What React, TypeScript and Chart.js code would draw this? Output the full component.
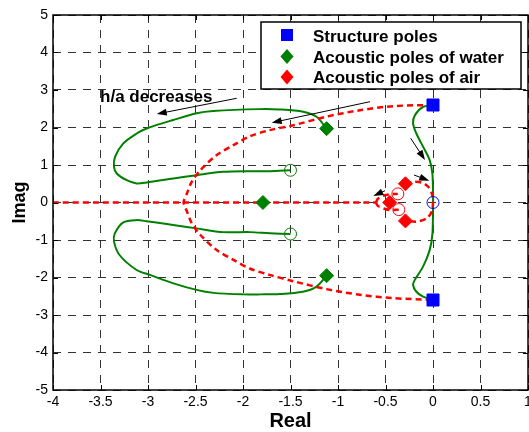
import React, { useEffect, useRef } from 'react';
import { Chart, registerables } from 'chart.js';

Chart.register(...registerables);

// ---------- axis ticks ----------
const xTickValues = [-4, -3.5, -3, -2.5, -2, -1.5, -1, -0.5, 0, 0.5, 1];
const xTickLabels = ['-4', '-3.5', '-3', '-2.5', '-2', '-1.5', '-1', '-0.5', '0', '0.5', '1'];
const yTickValues = [-5, -4, -3, -2, -1, 0, 1, 2, 3, 4, 5];
const yTickLabels = ['-5', '-4', '-3', '-2', '-1', '0', '1', '2', '3', '4', '5'];
const xTitle = 'Real';
const yTitle = 'Imag';

// ---------- legend ----------
const legendLabels = ['Structure poles', 'Acoustic poles of water', 'Acoustic poles of air'];

// ---------- poles & zeros ----------
const structurePoleX = [0, 0];
const structurePoleY = [2.6, -2.6];
const waterPoleX = [-1.12, -1.12, -1.79];
const waterPoleY = [1.97, -1.95, 0];
const airPoleX = [-0.29, -0.29, -0.455];
const airPoleY = [0.5, -0.49, 0];
const structureZeroX = [0];
const structureZeroY = [0];
const waterZeroX = [-1.5, -1.5];
const waterZeroY = [0.86, -0.84];
const airZeroX = [-0.37, -0.36];
const airZeroY = [0.23, -0.19];

// ---------- loci ----------
// green: structure pole locus (right side)
const structLocusX = [0, -0.105, -0.19, -0.21, -0.175, -0.105, -0.035, -0.007, 0, 0, -0.006, -0.035, -0.105, -0.193, -0.21, -0.175, -0.105, -0.017, 0];
const structLocusY = [2.6, 2.55, 2.33, 2.11, 1.84, 1.49, 1.13, 0.78, 0.3, -0.11, -0.83, -1.27, -1.71, -2.07, -2.2, -2.38, -2.51, -2.58, -2.6];

// green: water pole loci (upper and lower loops)
const waterUpperX = [-1.12, -1.226, -1.367, -1.612, -1.822, -2.313, -2.488, -2.734, -3.014, -3.119, -3.26, -3.347, -3.358, -3.329, -3.224, -3.119, -3.014, -2.734, -2.488, -2.208, -1.927, -1.717, -1.5];
const waterUpperY = [1.97, 2.285, 2.42, 2.48, 2.49, 2.44, 2.38, 2.2, 1.975, 1.84, 1.575, 1.217, 0.95, 0.774, 0.595, 0.507, 0.534, 0.64, 0.729, 0.817, 0.836, 0.836, 0.86];
const waterLowerX = [-1.12, -1.23, -1.37, -1.61, -1.82, -2.0, -2.31, -2.49, -2.74, -2.98, -3.12, -3.3, -3.357, -3.35, -3.26, -3.12, -3.014, -2.734, -2.488, -2.208, -1.927, -1.717, -1.5];
const waterLowerY = [-1.95, -2.25, -2.38, -2.44, -2.45, -2.45, -2.41, -2.33, -2.15, -1.93, -1.8, -1.4, -1.05, -0.83, -0.53, -0.47, -0.5, -0.6, -0.69, -0.79, -0.79, -0.82, -0.84];

// red: structure pole locus in air
const airBigX = [0, -0.42, -0.77, -1.12, -1.47, -1.72, -1.93, -2.1, -2.28, -2.45, -2.54, -2.59, -2.625, -2.59, -2.54, -2.45, -2.28, -2.1, -1.93, -1.72, -1.47, -1.12, -0.77, -0.42, 0];
const airBigY = [2.6, 2.57, 2.46, 2.29, 2.06, 1.93, 1.76, 1.53, 1.26, 0.86, 0.55, 0.24, 0, -0.24, -0.55, -0.86, -1.26, -1.53, -1.76, -1.93, -2.1, -2.31, -2.46, -2.55, -2.6];

// red: real-axis segment
const airAxisX = [-4, -0.6];
const airAxisY = [0, 0];

// red: small loop around origin
const airLoopX = [-0.29, -0.2, -0.12, -0.05, -0.01, 0, -0.014, -0.066, -0.17, -0.28];
const airLoopY = [0.5, 0.55, 0.53, 0.42, 0.22, 0, -0.245, -0.42, -0.51, -0.49];

// red: small arcs near the zeros
const airArcUpperX = [-0.6, -0.58, -0.52, -0.45, -0.37];
const airArcUpperY = [0, 0.1, 0.18, 0.22, 0.23];
const airArcLowerX = [-0.6, -0.58, -0.52, -0.45, -0.36];
const airArcLowerY = [0, -0.09, -0.16, -0.2, -0.19];

// ---------- annotations ----------
const arrowFromX = [-2.066, -0.663, -0.235, -0.2, -0.505];
const arrowFromY = [2.779, 2.688, 1.712, 0.733, 0.315];
const arrowToX = [-2.908, -1.698, -0.084, -0.039, -0.628];
const arrowToY = [2.36, 2.128, 1.133, 0.581, 0.173];
const noteText = 'h/a decreases';
const noteX = -3.505;
const noteY = 2.69;

const FONT = '"Liberation Sans", Arial, Helvetica, sans-serif';
const GREEN = '#008000';
const RED = '#ff0000';
const BLUE = '#0000ff';

const pts = (xs: number[], ys: number[]) => xs.map((x, i) => ({ x, y: ys[i] }));

function drawArrow(ctx: CanvasRenderingContext2D, x1: number, y1: number, x2: number, y2: number) {
  const a = Math.atan2(y2 - y1, x2 - x1);
  const L = 10, W = 3.5;
  const c = Math.cos(a), s = Math.sin(a);
  ctx.beginPath();
  ctx.moveTo(x1, y1);
  ctx.lineTo(x2 - L * 0.7 * c, y2 - L * 0.7 * s);
  ctx.stroke();
  ctx.beginPath();
  ctx.moveTo(x2, y2);
  ctx.lineTo(x2 - L * c + W * s, y2 - L * s - W * c);
  ctx.lineTo(x2 - L * c - W * s, y2 - L * s + W * c);
  ctx.closePath();
  ctx.fill();
}

const framePlugin = {
  id: 'frame',
  afterDatasetsDraw(chart: any) {
    const { ctx, chartArea, scales } = chart;
    const { left, right, top, bottom } = chartArea;
    const x = scales.x, y = scales.y;
    ctx.save();
    ctx.strokeStyle = '#000';
    ctx.lineWidth = 1;
    ctx.beginPath();
    xTickValues.forEach((v) => {
      const px = Math.round(x.getPixelForValue(v)) + 0.5;
      ctx.moveTo(px, bottom); ctx.lineTo(px, bottom - 5);
      ctx.moveTo(px, top); ctx.lineTo(px, top + 5);
    });
    yTickValues.forEach((v) => {
      const py = Math.round(y.getPixelForValue(v)) + 0.5;
      ctx.moveTo(left, py); ctx.lineTo(left + 5, py);
      ctx.moveTo(right, py); ctx.lineTo(right - 5, py);
    });
    ctx.stroke();
    ctx.lineWidth = 1.5;
    ctx.strokeRect(left, top, right - left, bottom - top);

    // arrows
    ctx.strokeStyle = '#000';
    ctx.fillStyle = '#000';
    ctx.lineWidth = 1;
    arrowFromX.forEach((_, i) => {
      drawArrow(ctx,
        x.getPixelForValue(arrowFromX[i]), y.getPixelForValue(arrowFromY[i]),
        x.getPixelForValue(arrowToX[i]), y.getPixelForValue(arrowToY[i]));
    });

    // note text
    ctx.font = `bold 17px ${FONT}`;
    ctx.textBaseline = 'alphabetic';
    ctx.textAlign = 'left';
    ctx.fillStyle = '#000';
    ctx.fillText(noteText, x.getPixelForValue(noteX), y.getPixelForValue(noteY));

    // legend
    const lx = 261, ly = 22, lw = 260, lh = 67;
    ctx.fillStyle = '#fff';
    ctx.fillRect(lx, ly, lw, lh);
    ctx.strokeStyle = '#000';
    ctx.lineWidth = 1.5;
    ctx.strokeRect(lx, ly, lw, lh);
    const rowY = [35, 56.5, 77];
    const baseY = [41.5, 62.5, 83];
    const mx = 287;
    ctx.fillStyle = BLUE;
    ctx.fillRect(mx - 6, rowY[0] - 6, 12, 12);
    [GREEN, RED].forEach((col, k) => {
      const cy = rowY[k + 1];
      ctx.fillStyle = col;
      ctx.beginPath();
      ctx.moveTo(mx, cy - 7.5);
      ctx.lineTo(mx + 6.5, cy);
      ctx.lineTo(mx, cy + 7.5);
      ctx.lineTo(mx - 6.5, cy);
      ctx.closePath();
      ctx.fill();
    });
    ctx.fillStyle = '#000';
    ctx.font = `bold 17px ${FONT}`;
    legendLabels.forEach((t, i) => ctx.fillText(t, 313, baseY[i]));
    ctx.restore();
  },
};

export default function App() {
  const ref = useRef<HTMLCanvasElement>(null);
  useEffect(() => {
    const curve = (xs: number[], ys: number[], color: string, dashed: boolean, order: number) => ({
      data: pts(xs, ys),
      showLine: true,
      borderColor: color,
      backgroundColor: color,
      borderWidth: dashed ? 2.5 : 2,
      borderDash: dashed ? [6, 4] : [],
      pointRadius: 0,
      tension: 0.3,
      fill: false,
      order,
    });
    const marker = (xs: number[], ys: number[], style: string, r: number, fillCol: string, edge: string, order: number) => ({
      data: pts(xs, ys),
      showLine: false,
      pointStyle: style,
      pointRadius: r,
      backgroundColor: fillCol,
      borderColor: edge,
      borderWidth: 1,
      order,
    });
    const chart = new Chart(ref.current as HTMLCanvasElement, {
      type: 'scatter',
      data: {
        datasets: [
          marker(structurePoleX, structurePoleY, 'rect', 8.5, BLUE, BLUE, 0),
          marker(waterPoleX, waterPoleY, 'rectRot', 7, GREEN, GREEN, 0),
          marker(airPoleX, airPoleY, 'rectRot', 7, RED, RED, 0),
          marker(structureZeroX, structureZeroY, 'circle', 6, 'rgba(0,0,0,0)', BLUE, 0),
          marker(waterZeroX, waterZeroY, 'circle', 6, 'rgba(0,0,0,0)', GREEN, 0),
          marker(airZeroX, airZeroY, 'circle', 6, 'rgba(0,0,0,0)', RED, 0),
          curve(airBigX, airBigY, RED, true, 1),
          curve(airAxisX, airAxisY, RED, true, 1),
          curve(airLoopX, airLoopY, RED, true, 1),
          curve(airArcUpperX, airArcUpperY, RED, true, 1),
          curve(airArcLowerX, airArcLowerY, RED, true, 1),
          curve(structLocusX, structLocusY, GREEN, false, 2),
          curve(waterUpperX, waterUpperY, GREEN, false, 2),
          curve(waterLowerX, waterLowerY, GREEN, false, 2),
        ] as any,
      },
      options: {
        responsive: false,
        animation: false,
        events: [],
        layout: { autoPadding: false, padding: { top: 15, left: 0, right: 1, bottom: 0 } },
        plugins: { legend: { display: false }, tooltip: { enabled: false } },
        scales: {
          x: {
            type: 'linear',
            min: -4,
            max: 1,
            afterBuildTicks: (s: any) => { s.ticks = xTickValues.map((v) => ({ value: v })); },
            afterFit: (s: any) => { s.height = 42; s.paddingLeft = 0; s.paddingRight = 0; },
            ticks: {
              callback: (_v: any, i: number) => xTickLabels[i],
              font: { family: FONT, size: 14 },
              color: '#000',
              padding: 4,
              maxRotation: 0,
              autoSkip: false,
            },
            grid: { color: '#333', lineWidth: 1, drawTicks: false },
            border: { display: false, dash: [8, 7] },
            title: {
              display: true,
              text: xTitle,
              color: '#000',
              font: { family: FONT, size: 20, weight: 'bold', lineHeight: 1 },
              padding: { top: 0, bottom: 1 },
            },
          },
          y: {
            type: 'linear',
            min: -5,
            max: 5,
            afterBuildTicks: (s: any) => { s.ticks = yTickValues.map((v) => ({ value: v })); },
            afterFit: (s: any) => { s.width = 53; s.paddingTop = 0; s.paddingBottom = 0; },
            ticks: {
              callback: (_v: any, i: number) => yTickLabels[i],
              font: { family: FONT, size: 14 },
              color: '#000',
              padding: 5,
              autoSkip: false,
            },
            grid: { color: '#333', lineWidth: 1, drawTicks: false },
            border: { display: false, dash: [8, 7] },
            title: {
              display: true,
              text: yTitle,
              color: '#000',
              font: { family: FONT, size: 18, weight: 'bold', lineHeight: 1 },
              padding: { top: 11, bottom: 0 },
            },
          },
        },
      } as any,
      plugins: [framePlugin],
    });
    return () => chart.destroy();
  }, []);
  return (
    <div style={{ position: 'fixed', left: 0, top: 0, width: 529, height: 432, background: '#fff' }}>
      <canvas ref={ref} width={529} height={432} style={{ display: 'block', width: 529, height: 432 }} />
    </div>
  );
}
